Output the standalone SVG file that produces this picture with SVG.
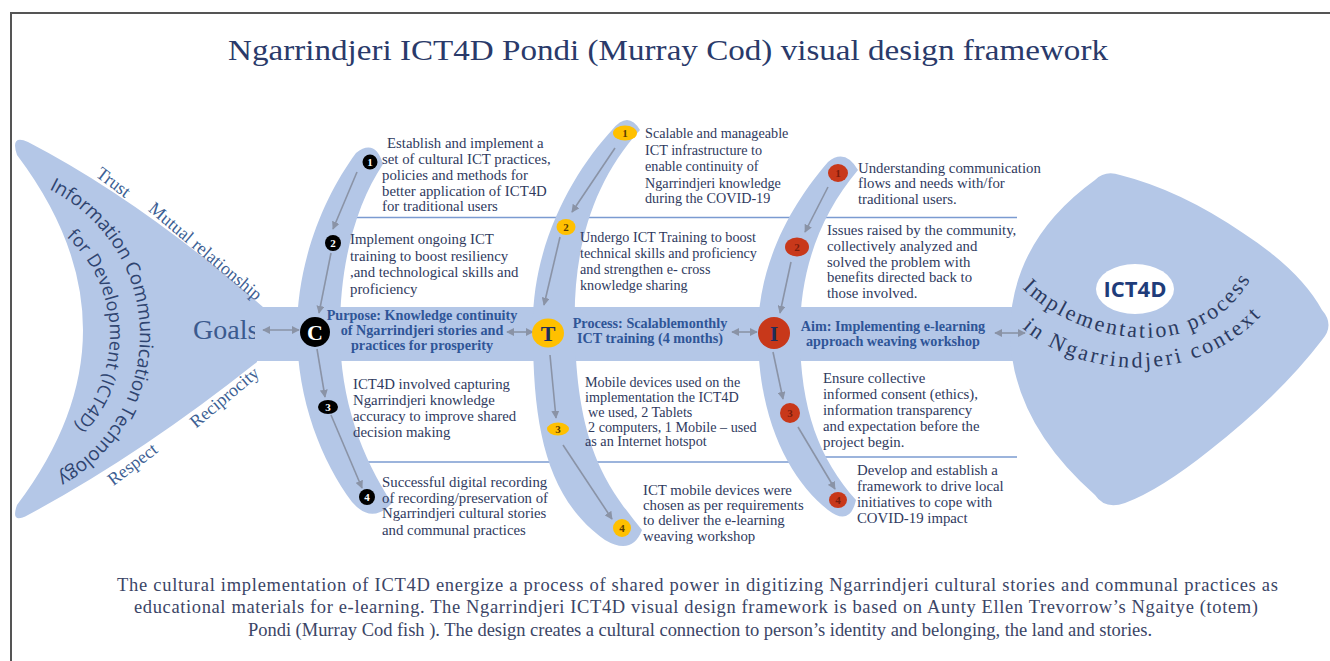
<svg xmlns="http://www.w3.org/2000/svg" width="1330" height="661" viewBox="0 0 1330 661">
<defs>
<style>
.band{fill:#b4c7e7}
.t{font-family:"Liberation Serif","Times New Roman",serif;font-size:14.8px;fill:#2f3a5e}
.ts{font-family:"Liberation Serif","Times New Roman",serif;font-size:14.2px;fill:#2f3a5e}
.b{font-family:"Liberation Serif","Times New Roman",serif;font-size:14.2px;font-weight:bold;fill:#2f5597;text-anchor:middle}
.lbl{font-family:"Liberation Serif","Times New Roman",serif;font-size:18px;fill:#3d5f94;text-anchor:middle}
.sep{stroke:#7b9bd1;stroke-width:1.5}
.arr{stroke:#8a93a6;stroke-width:1.6;fill:none;marker-end:url(#ah)}
.dbl{stroke:#8a93a6;stroke-width:1.6;fill:none;marker-start:url(#ah);marker-end:url(#ah)}
.num{font-family:"Liberation Serif","Times New Roman",serif;font-size:11px;font-weight:bold;text-anchor:middle}
.big{font-family:"Liberation Serif","Times New Roman",serif;font-size:22px;font-weight:bold;text-anchor:middle}
.arc{font-family:"Open Sans","DejaVu Sans",sans-serif;font-size:19px;fill:#2f4470}
.harc{font-family:"Liberation Serif","Times New Roman",serif;font-size:22px;fill:#2b3a60}
.foot{font-family:"Liberation Serif","Times New Roman",serif;font-size:18.5px;fill:#3b4566}
</style>
<marker id="ah" viewBox="0 0 10 10" refX="9" refY="5" markerWidth="8" markerHeight="8" markerUnits="userSpaceOnUse" orient="auto-start-reverse"><path d="M0,0 L10,5 L0,10 z" fill="#8a93a6"/></marker>
<path id="tp1" d="M49,189.4 A162,162 0 0 1 54,478"/>
<path id="tp2" d="M66.3,236.9 A132,132 0 0 1 71.3,428.3"/>
<path id="hp1" d="M1022,288 C1080,345 1210,370 1256,268"/>
<path id="hp2" d="M1022,328 C1080,378 1200,390 1268,308"/>
</defs>
<rect width="1330" height="661" fill="#ffffff"/>
<path d="M11,661 V13 H1330" fill="none" stroke="#555" stroke-width="2"/>
<text x="228" y="60" textLength="880" lengthAdjust="spacingAndGlyphs" style="font-family:'Liberation Serif','Times New Roman',serif;font-size:30px;fill:#2a3a6a">Ngarrindjeri ICT4D Pondi (Murray Cod) visual design framework</text>

<g id="separators">
<line class="sep" x1="345" y1="217.5" x2="1017" y2="217.5"/>
<line class="sep" x1="350" y1="462" x2="800" y2="462"/>
<line class="sep" x1="825" y1="457" x2="1017" y2="457"/>
</g>

<g id="tail">
<path class="band" d="M263,307 Q140,200 28,142 Q10,134 17,155 Q149,330 17,505 Q10,525 28,515 Q140,455 257,362 Z"/>
<text class="arc"><textPath href="#tp1" textLength="352" lengthAdjust="spacing">Information Communication Technology</textPath></text>
<text class="arc" style="font-size:18px"><textPath href="#tp2" textLength="210" lengthAdjust="spacing">for Development (ICT4D)</textPath></text>
<text class="lbl" transform="translate(113,183) rotate(37)" y="5">Trust</text>
<text class="lbl" transform="translate(205,252) rotate(40)" y="5">Mutual relationship</text>
<text class="lbl" transform="translate(225,398) rotate(-40)" y="5">Reciprocity</text>
<text class="lbl" transform="translate(133,465) rotate(-37)" y="5">Respect</text>
<text x="193" y="339" style="font-family:'Liberation Serif','Times New Roman',serif;font-size:28px;fill:#3b5a8e">Goals</text>
</g>

<g id="spine"><rect class="band" x="255" y="307" width="780" height="54"/></g>

<g id="head">
<path class="band" d="M1120,175 Q1180,190 1243,233 Q1300,270 1322,310 Q1335,325 1322,340 Q1280,395 1210,450 Q1160,490 1125,503 Q1105,510 1095,495 Q1010,420 1010,330 Q1012,240 1095,180 Q1105,170 1120,175 Z"/>
<ellipse cx="1135" cy="289" rx="39" ry="25" fill="#ffffff"/>
<text x="1135" y="297" text-anchor="middle" style="font-family:'Open Sans','DejaVu Sans',sans-serif;font-size:22px;font-weight:bold;fill:#1f3c7a">ICT4D</text>
<text class="harc"><textPath href="#hp1" textLength="262" lengthAdjust="spacing">Implementation process</textPath></text>
<text class="harc"><textPath href="#hp2" textLength="262" lengthAdjust="spacing">in Ngarrindjeri context</textPath></text>
</g>

<g id="rib-c"><path class="band" d="M356,153 C325,195 297,260 297,331 C297,400 322,462 352,502 Q372,525 392,503 C362,458 340,400 340,331 C340,262 356,205 383,164 Q375,138 356,153 Z"/></g>
<g id="rib-t"><path class="band" d="M612,130 C575,170 530,245 533,333 C533,430 548,500 605,540 Q632,556 642,530 C610,490 577,450 575,333 C572,255 590,185 640,130 Q628,110 612,130 Z"/></g>
<g id="rib-i"><path class="band" d="M828,162 C795,200 758,260 758,333 C758,420 790,480 828,510 Q850,527 856,500 C820,460 800,410 800,333 C800,270 820,215 858,170 Q845,148 828,162 Z"/></g>

<g id="connectors">
<line class="arr" x1="357" y1="172" x2="333" y2="229"/>
<line class="arr" x1="331" y1="253" x2="319" y2="313"/>
<line class="arr" x1="317" y1="349" x2="325" y2="397"/>
<line class="arr" x1="331" y1="415" x2="362" y2="488"/>
<line class="arr" x1="615" y1="148" x2="572" y2="212"/>
<line class="arr" x1="560" y1="237" x2="544" y2="305"/>
<line class="arr" x1="550" y1="355" x2="556" y2="418"/>
<line class="arr" x1="563" y1="445" x2="612" y2="519"/>
<line class="arr" x1="828" y1="187" x2="805" y2="232"/>
<line class="arr" x1="791" y1="262" x2="780" y2="313"/>
<line class="arr" x1="773" y1="352" x2="783" y2="399"/>
<line class="arr" x1="798" y1="427" x2="835" y2="489"/>
<line class="dbl" x1="263" y1="330" x2="299" y2="330"/>
<line class="dbl" x1="507" y1="332" x2="533" y2="332"/>
<line class="dbl" x1="732" y1="332" x2="757" y2="332"/>
<line class="dbl" x1="995" y1="333" x2="1025" y2="333"/>
</g>

<g id="node-c1"><circle cx="370" cy="162" r="7.5" fill="#000"/><text class="num" x="370" y="166" fill="#fff">1</text>
<text class="t" y="148"><tspan x="387">Establish and implement a</tspan><tspan x="382" y="164">set of cultural ICT practices,</tspan><tspan x="382" y="180">policies and methods for</tspan><tspan x="382" y="196">better application of ICT4D</tspan><tspan x="382" y="211">for traditional users</tspan></text></g>
<g id="node-c2"><circle cx="333" cy="243" r="8" fill="#000"/><text class="num" x="333" y="247" fill="#fff">2</text>
<text class="t" y="244"><tspan x="350">Implement ongoing ICT</tspan><tspan x="350" y="261">training to boost resiliency</tspan><tspan x="350" y="277">,and technological skills and</tspan><tspan x="350" y="294">proficiency</tspan></text></g>
<g id="node-c"><circle cx="315" cy="332" r="15" fill="#000"/><text class="big" x="315" y="340" fill="#fff">C</text>
<text class="b" y="320"><tspan x="422">Purpose: Knowledge continuity</tspan><tspan x="422" y="335">of Ngarrindjeri stories  and</tspan><tspan x="422" y="350">practices  for prosperity</tspan></text></g>
<g id="node-c3"><ellipse cx="328" cy="407" rx="10" ry="7" fill="#000"/><text class="num" x="328" y="411" fill="#fff">3</text>
<text class="t" y="389"><tspan x="353">ICT4D involved capturing</tspan><tspan x="353" y="405">Ngarrindjeri knowledge</tspan><tspan x="353" y="421">accuracy to improve shared</tspan><tspan x="353" y="437">decision making</tspan></text></g>
<g id="node-c4"><circle cx="367" cy="497" r="8" fill="#000"/><text class="num" x="367" y="501" fill="#fff">4</text>
<text class="t" y="487"><tspan x="382">Successful digital recording</tspan><tspan x="382" y="503">of recording/preservation of</tspan><tspan x="382" y="518">Ngarrindjeri cultural stories</tspan><tspan x="382" y="535">and communal practices</tspan></text></g>

<g id="node-t1"><ellipse cx="625" cy="133" rx="12" ry="7.5" fill="#ffc000"/><text class="num" x="625" y="137" fill="#5a3c00" font-weight="normal">1</text>
<text class="ts" y="138"><tspan x="645">Scalable and manageable</tspan><tspan x="645" y="155">ICT infrastructure to</tspan><tspan x="645" y="171">enable continuity of</tspan><tspan x="645" y="188">Ngarrindjeri knowledge</tspan><tspan x="645" y="203">during the COVID-19</tspan></text></g>
<g id="node-t2"><ellipse cx="566" cy="227" rx="9.5" ry="8" fill="#ffc000"/><text class="num" x="566" y="231" fill="#5a3c00" font-weight="normal">2</text>
<text class="ts" y="242"><tspan x="580">Undergo ICT Training to boost</tspan><tspan x="580" y="258">technical skills and proficiency</tspan><tspan x="580" y="274">and strengthen e- cross</tspan><tspan x="580" y="290">knowledge sharing</tspan></text></g>
<g id="node-t"><ellipse cx="548" cy="333" rx="16" ry="14.5" fill="#ffc000"/><text class="big" x="548" y="341" fill="#1f2d5a">T</text>
<text class="b" y="328"><tspan x="650">Process: Scalablemonthly</tspan><tspan x="650" y="343">ICT training (4 months)</tspan></text></g>
<g id="node-t3"><ellipse cx="558" cy="429" rx="11" ry="6.5" fill="#ffc000"/><text class="num" x="558" y="433" fill="#5a3c00" font-weight="normal">3</text>
<text class="ts" y="387"><tspan x="585">Mobile devices  used on the</tspan><tspan x="585" y="402">implementation the ICT4D</tspan><tspan x="588" y="417">we used, 2 Tablets</tspan><tspan x="588" y="432">2 computers, 1 Mobile – used</tspan><tspan x="585" y="446">as an Internet  hotspot</tspan></text></g>
<g id="node-t4"><ellipse cx="622" cy="528" rx="9" ry="9" fill="#ffc000"/><text class="num" x="622" y="532" fill="#5a3c00" font-weight="normal">4</text>
<text class="t" y="495"><tspan x="643">ICT mobile devices were</tspan><tspan x="643" y="510">chosen as per requirements</tspan><tspan x="643" y="525">to deliver the e-learning</tspan><tspan x="643" y="541">weaving workshop</tspan></text></g>

<g id="node-i1"><ellipse cx="838" cy="173" rx="10" ry="9" fill="#c8381a"/><text class="num" x="838" y="177" fill="#7a1c0c" font-weight="normal">1</text>
<text class="t" y="173"><tspan x="858">Understanding communication</tspan><tspan x="858" y="188">flows and needs with/for</tspan><tspan x="858" y="204">traditional users.</tspan></text></g>
<g id="node-i2"><ellipse cx="797" cy="247" rx="12" ry="9.5" fill="#c8381a"/><text class="num" x="797" y="251" fill="#7a1c0c" font-weight="normal">2</text>
<text class="t" y="235"><tspan x="827">Issues raised by the community,</tspan><tspan x="827" y="251">collectively analyzed and</tspan><tspan x="827" y="267">solved the problem with</tspan><tspan x="827" y="282">benefits directed back to</tspan><tspan x="827" y="298">those involved.</tspan></text></g>
<g id="node-i"><circle cx="774" cy="333" r="16" fill="#c8381a"/><text class="big" x="774" y="341" fill="#1f2d5a" font-weight="normal">I</text>
<text class="b" y="331"><tspan x="893">Aim: Implementing e-learning</tspan><tspan x="893" y="346">approach weaving workshop</tspan></text></g>
<g id="node-i3"><circle cx="790" cy="413" r="10" fill="#c8381a"/><text class="num" x="790" y="417" fill="#7a1c0c" font-weight="normal">3</text>
<text class="t" y="383"><tspan x="823">Ensure collective</tspan><tspan x="823" y="399">informed consent (ethics),</tspan><tspan x="823" y="415">information transparency</tspan><tspan x="823" y="431">and expectation before the</tspan><tspan x="823" y="447">project begin.</tspan></text></g>
<g id="node-i4"><ellipse cx="838" cy="500" rx="9" ry="8" fill="#c8381a"/><text class="num" x="838" y="504" fill="#7a1c0c" font-weight="normal">4</text>
<text class="t" y="475"><tspan x="857">Develop and establish a</tspan><tspan x="857" y="491">framework to drive local</tspan><tspan x="857" y="507">initiatives to cope with</tspan><tspan x="857" y="523">COVID-19 impact</tspan></text></g>

<g id="caption">
<text class="foot" x="117" y="591" textLength="1161" lengthAdjust="spacing">The cultural implementation  of ICT4D energize a process of shared power in digitizing  Ngarrindjeri cultural stories and communal practices as</text>
<text class="foot" x="134" y="613" textLength="1124" lengthAdjust="spacing">educational materials for e-learning. The Ngarrindjeri ICT4D  visual design  framework is based on Aunty Ellen Trevorrow’s Ngaitye (totem)</text>
<text class="foot" x="248" y="636" textLength="904" lengthAdjust="spacing">Pondi (Murray Cod fish ). The design creates a cultural connection to person’s identity and belonging,  the land and stories.</text>
</g>
</svg>
